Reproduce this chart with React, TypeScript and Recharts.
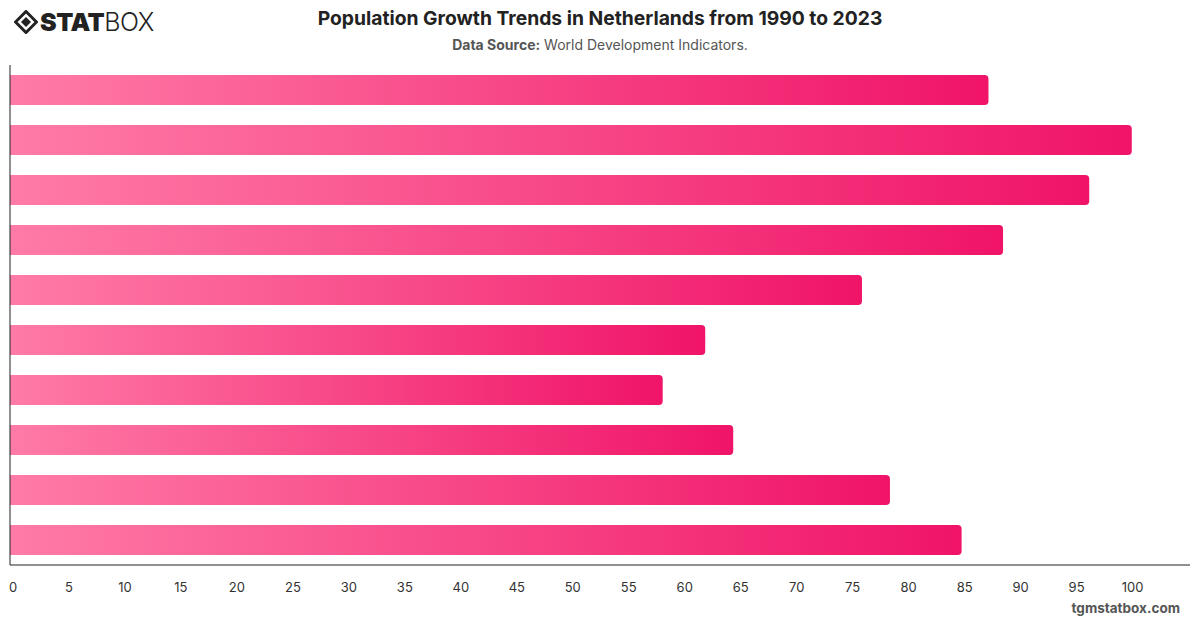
import React from 'react';
import { BarChart, Bar, XAxis, YAxis } from 'recharts';

// values (top to bottom)
const years = ['2014', '2015', '2016', '2017', '2018', '2019', '2020', '2021', '2022', '2023'];
const growth = [87.4, 100.2, 96.4, 88.7, 76.1, 62.1, 58.3, 64.6, 78.6, 85.0];
const xTicks = [0, 5, 10, 15, 20, 25, 30, 35, 40, 45, 50, 55, 60, 65, 70, 75, 80, 85, 90, 95, 100];

const data = years.map((year, i) => ({ year, value: growth[i] }));

const FONT = 'Inter, "Noto Sans", sans-serif';

const Logo = () => (
  <div style={{ position: 'absolute', left: 14, top: 7, display: 'flex', alignItems: 'center' }}>
    <svg width={24} height={24} viewBox="0 0 24 24">
      <path d="M12 1.5 L22.5 12 L12 22.5 L1.5 12 Z" fill="none" stroke="#222" strokeWidth={3} />
      <path d="M12 7 L17 12 L12 17 L7 12 Z" fill="#222" />
    </svg>
    <span style={{ fontFamily: FONT, fontSize: 25, fontWeight: 900, color: '#222', marginLeft: 2, letterSpacing: -0.5 }}>STAT</span>
    <span style={{ fontFamily: FONT, fontSize: 25, fontWeight: 300, color: '#222', letterSpacing: -0.5 }}>BOX</span>
  </div>
);

export default function App() {
  return (
    <div style={{ position: 'relative', width: 1200, height: 628, margin: -8, background: '#fff', overflow: 'hidden' }}>
      <BarChart
        width={1200}
        height={628}
        data={data}
        layout="vertical"
        barSize={30}
        margin={{ top: 65, right: 10, bottom: 33, left: 0 }}
      >
        <defs>
          <linearGradient id="barFill" x1="0" y1="0" x2="1" y2="0">
            <stop offset="0%" stopColor="#ff7ba7" />
            <stop offset="100%" stopColor="#f01468" />
          </linearGradient>
        </defs>
        <XAxis
          type="number"
          domain={[0, 105.4]}
          ticks={xTicks}
          allowDataOverflow
          tickLine={false}
          tickMargin={12}
          axisLine={{ stroke: '#222' }}
          tick={{ fill: '#333', fontSize: 13, fontFamily: FONT, dx: 3 }}
        />
        <YAxis
          type="category"
          dataKey="year"
          width={10}
          tick={false}
          tickLine={false}
          axisLine={{ stroke: '#222' }}
        />
        <Bar dataKey="value" fill="url(#barFill)" radius={[0, 4, 4, 0]} isAnimationActive={false} />
      </BarChart>
      <Logo />
      <div style={{ position: 'absolute', left: 0, width: 1200, top: 6, textAlign: 'center', fontFamily: FONT, fontSize: 19.3, fontWeight: 700, color: '#222' }}>
        Population Growth Trends in Netherlands from 1990 to 2023
      </div>
      <div style={{ position: 'absolute', left: 0, width: 1200, top: 36, textAlign: 'center', fontFamily: FONT, fontSize: 14, color: '#555' }}>
        <b>Data Source:</b> World Development Indicators.
      </div>
      <div style={{ position: 'absolute', right: 20, top: 598, lineHeight: '20px', fontFamily: FONT, fontSize: 13.5, fontWeight: 700, color: '#555' }}>
        tgmstatbox.com
      </div>
    </div>
  );
}
